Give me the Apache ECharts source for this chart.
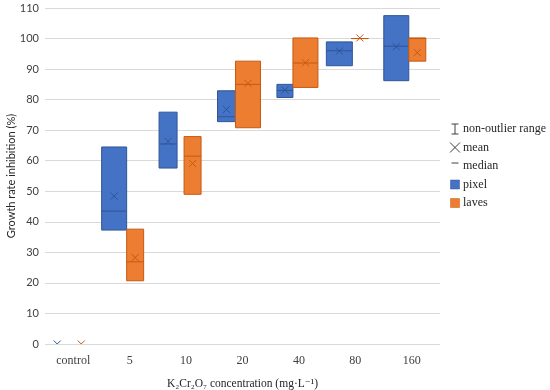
<!DOCTYPE html>
<html>
<head>
<meta charset="utf-8">
<script src="https://cdn.jsdelivr.net/npm/echarts@6/dist/echarts.min.js"></script>
<style>html,body{margin:0;padding:0;background:#fff}#c{width:550px;height:390px}</style>
</head>
<body>
<div id="c"></div>
<script>
// ---- data ----
const categories = ['control', '5', '10', '20', '40', '80', '160'];
const yTicks = [0, 10, 20, 30, 40, 50, 60, 70, 80, 90, 100, 110];

// control has no box drawn, only the mean marker
const pixelQ1     = [null, 37.3, 57.6, 72.8, 80.7, 91.1, 86.2];
const pixelMedian = [null, 43.5, 65.5, 74.4, 83.0, 96.0, 97.5];
const pixelQ3     = [null, 64.5, 75.9, 82.9, 85.0, 98.9, 107.5];
const pixelMean   = [0, 48.4, 66.3, 76.8, 83.1, 95.9, 97.3];

const lavesQ1     = [null, 20.7, 49.0, 70.8, 84.0, 100, 92.6];
const lavesMedian = [null, 26.9, 61.5, 85.0, 92.0, 100, 100];
const lavesQ3     = [null, 37.6, 67.9, 92.6, 100.2, 100, 100.2];
const lavesMean   = [0, 28.3, 59.1, 85.3, 92.1, 100.2, 95.4];

// ---- layout (box edges relative to category centre, as fraction of band) ----
const BAND = 56.43;
const pixelEdges = [[-24,-8],[-28,-3],[-27,-9],[-25,-7],[-22,-6],[-29,-3],[-28,-3]].map(a => a.map(v => v / BAND));
const lavesEdges = [[0,16],[-3,14],[-2,15],[-7,18],[-6,19],[-4,13],[-3,14]].map(a => a.map(v => v / BAND));

const styles = {
  pixel: { fill: '#4472C4', stroke: '#2F5597', mark: '#2F5597' },
  laves: { fill: '#ED7D31', stroke: '#C55A11', mark: '#C55A11' }
};

function buildData(q1, med, q3, mean) {
  return categories.map((c, i) => [i, q1[i] == null ? '-' : q1[i], med[i] == null ? '-' : med[i], q3[i] == null ? '-' : q3[i], mean[i]]);
}

function makeRender(edges, st) {
  return function (params, api) {
    const i = api.value(0);
    const band = api.size([1, 0])[0];
    const cx = api.coord([i, 0])[0];
    const x0 = cx + edges[i][0] * band;
    const x1 = cx + edges[i][1] * band;
    const ymean = api.coord([i, api.value(4)])[1];
    const mx = (x0 + x1) / 2;
    const s = 3.5;
    const children = [];
    const v1 = api.value(1), v2 = api.value(2), v3 = api.value(3);
    if (isFinite(v1) && isFinite(v3) && !isNaN(v1) && !isNaN(v3)) {
      const yq1 = api.coord([i, v1])[1];
      const yq3 = api.coord([i, v3])[1];
      children.push({ type: 'rect', shape: { x: x0, y: yq3, width: x1 - x0, height: yq1 - yq3 },
        style: { fill: st.fill, stroke: st.stroke, lineWidth: 1 } });
    }
    if (isFinite(v2) && !isNaN(v2)) {
      const ymed = api.coord([i, v2])[1];
      children.push({ type: 'line', shape: { x1: x0, y1: ymed, x2: x1, y2: ymed },
        style: { stroke: st.mark, lineWidth: 1 } });
    }
    children.push({ type: 'line', shape: { x1: mx - s, y1: ymean - s, x2: mx + s, y2: ymean + s },
      style: { stroke: st.mark, lineWidth: 1 } });
    children.push({ type: 'line', shape: { x1: mx - s, y1: ymean + s, x2: mx + s, y2: ymean - s },
      style: { stroke: st.mark, lineWidth: 1 } });
    return { type: 'group', children };
  };
}

const serif = '"Liberation Serif", "DejaVu Serif", serif';
const sans = 'Lato, "Liberation Sans", sans-serif';

// legend graphics
const legendRows = [
  { label: 'non-outlier range', icon: 'range' },
  { label: 'mean', icon: 'mean' },
  { label: 'median', icon: 'median' },
  { label: 'pixel', icon: 'pixel' },
  { label: 'laves', icon: 'laves' }
];
const legendY = [129, 147.5, 166, 184.5, 203];
const lx = 455;
const graphics = [];
legendRows.forEach((r, k) => {
  const y = legendY[k];
  if (r.icon === 'range') {
    graphics.push({ type: 'line', shape: { x1: lx, y1: y - 5, x2: lx, y2: y + 5 }, style: { stroke: '#404040', lineWidth: 1 } });
    graphics.push({ type: 'line', shape: { x1: lx - 3.5, y1: y - 5, x2: lx + 3.5, y2: y - 5 }, style: { stroke: '#404040', lineWidth: 1 } });
    graphics.push({ type: 'line', shape: { x1: lx - 3.5, y1: y + 5, x2: lx + 3.5, y2: y + 5 }, style: { stroke: '#404040', lineWidth: 1 } });
  } else if (r.icon === 'mean') {
    graphics.push({ type: 'line', shape: { x1: lx - 5, y1: y - 5, x2: lx + 5, y2: y + 5 }, style: { stroke: '#404040', lineWidth: 1 } });
    graphics.push({ type: 'line', shape: { x1: lx - 5, y1: y + 5, x2: lx + 5, y2: y - 5 }, style: { stroke: '#404040', lineWidth: 1 } });
  } else if (r.icon === 'median') {
    graphics.push({ type: 'line', shape: { x1: lx - 3.5, y1: y - 3, x2: lx + 3.5, y2: y - 3 }, style: { stroke: '#404040', lineWidth: 1 } });
  } else {
    const st = styles[r.icon];
    graphics.push({ type: 'rect', shape: { x: lx - 4.5, y: y - 4.5, width: 9, height: 9 }, style: { fill: st.fill, stroke: st.stroke, lineWidth: 0.5 } });
  }
  graphics.push({ type: 'text', x: lx + 8, y: y, style: { text: r.label, font: '12px ' + serif, fill: '#262626', verticalAlign: 'middle', textAlign: 'left' } });
});

const chart = echarts.init(document.getElementById('c'), null, { renderer: 'canvas' });
chart.setOption({
  animation: false,
  backgroundColor: '#ffffff',
  grid: { left: 45, right: 110, top: 8, bottom: 46, containLabel: false, outerBoundsMode: 'none' },
  xAxis: {
    type: 'category',
    data: categories,
    boundaryGap: true,
    axisLine: { show: false },
    axisTick: { show: false },
    axisLabel: { margin: 11, fontFamily: serif, fontSize: 12, color: '#404040' },
    name: 'K₂Cr₂O₇ concentration (mg·L⁻¹)',
    nameLocation: 'middle',
    nameGap: 34,
    nameMoveOverlap: false,
    nameTextStyle: { fontFamily: serif, fontSize: 11.5, color: '#262626' }
  },
  yAxis: {
    type: 'value',
    min: yTicks[0],
    max: yTicks[yTicks.length - 1],
    interval: 10,
    axisLine: { show: false },
    axisTick: { show: false },
    axisLabel: { margin: 6, fontFamily: sans, fontSize: 11, color: '#404040' },
    splitLine: { lineStyle: { color: '#d9d9d9', width: 1 } },
    name: 'Growth rate inhibition (%)',
    nameLocation: 'middle',
    nameGap: 28,
    nameMoveOverlap: false,
    nameTextStyle: { fontFamily: sans, fontSize: 11, color: '#262626' }
  },
  series: [
    { name: 'pixel', type: 'custom', clip: true, renderItem: makeRender(pixelEdges, styles.pixel),
      encode: { x: 0, y: [1, 2, 3, 4] }, data: buildData(pixelQ1, pixelMedian, pixelQ3, pixelMean) },
    { name: 'laves', type: 'custom', clip: true, renderItem: makeRender(lavesEdges, styles.laves),
      encode: { x: 0, y: [1, 2, 3, 4] }, data: buildData(lavesQ1, lavesMedian, lavesQ3, lavesMean) }
  ],
  graphic: graphics
});
</script>
</body>
</html>
